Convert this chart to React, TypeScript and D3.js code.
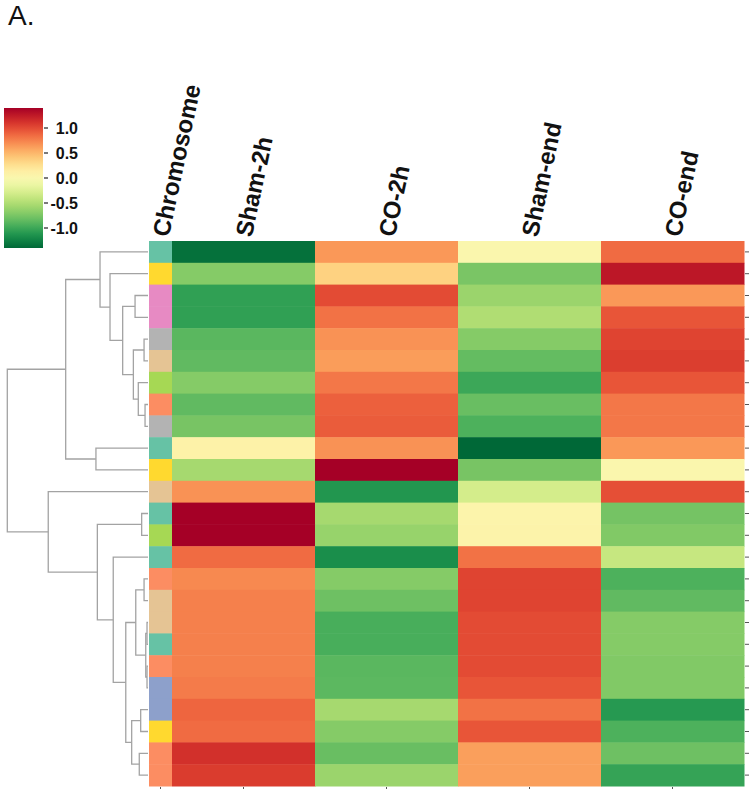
import React from "react";
import * as d3 from "d3";

// columns of the heatmap (after the chromosome strip)
const columns = ["Sham-2h", "CO-2h", "Sham-end", "CO-end"];

// row order as drawn (top to bottom), chromosome group of each row
const chromosome = [
  "1", "6", "4", "4", "8", "7", "5", "2", "8", "1", "6", "7", "1",
  "5", "1", "2", "7", "7", "1", "2", "3", "3", "6", "2", "2",
];
const chromosomeGroups = ["1", "2", "3", "4", "5", "6", "7", "8"];

// z-scored expression, one value per row
const shamTwoH = [
  -1.35, -0.7, -1.05, -1.05, -0.88, -0.85, -0.7, -0.85, -0.76, 0.1, -0.55, 0.68, 1.4,
  1.4, 0.85, 0.72, 0.76, 0.76, 0.76, 0.76, 0.78, 0.88, 0.85, 1.13, 1.07,
];
const coTwoH = [
  0.65, 0.35, 1.0, 0.82, 0.68, 0.63, 0.8, 0.9, 0.92, 0.68, 1.4, -1.12, -0.55,
  -0.62, -1.17, -0.7, -0.8, -0.95, -0.95, -0.88, -0.87, -0.55, -0.7, -0.82, -0.6,
];
const shamEnd = [
  0.03, -0.75, -0.6, -0.5, -0.7, -0.84, -1.0, -0.82, -0.93, -1.4, -0.76, -0.3, 0.07,
  0.08, 0.82, 1.03, 1.03, 1.0, 1.0, 1.0, 0.95, 0.82, 0.95, 0.62, 0.62,
];
const coEnd = [
  0.85, 1.27, 0.65, 0.95, 1.03, 1.06, 0.95, 0.8, 0.8, 0.65, 0.03, 0.98, -0.77,
  -0.72, -0.38, -0.93, -0.85, -0.7, -0.7, -0.72, -0.72, -1.1, -0.93, -0.8, -1.03,
];

// hierarchical clustering of the rows: [childA, childB, distance]
// leaves are 0..24, merged clusters get ids 25, 26, ...
const linkage = [
  [17, 18, 0.007], [19, 20, 0.007], [25, 26, 0.016], [7, 8, 0.021],
  [4, 5, 0.028], [15, 16, 0.028], [12, 13, 0.045], [21, 22, 0.052],
  [23, 24, 0.062], [6, 28, 0.069], [30, 27, 0.087], [2, 3, 0.092],
  [29, 34, 0.104], [32, 33, 0.116], [35, 38, 0.158], [36, 37, 0.18],
  [14, 39, 0.247], [1, 40, 0.27], [0, 42, 0.341], [31, 41, 0.36],
  [9, 10, 0.37], [43, 45, 0.585], [11, 44, 0.709], [46, 47, 1.0],
];

const colorTicks = [1.0, 0.5, 0.0, -0.5, -1.0];

const W = 750;
const H = 789;
const top = 241;
const bottom = 786;
const stripLeft = 149;
const stripRight = 172;
const heatRight = 744;

export default function App() {
  const series = [shamTwoH, coTwoH, shamEnd, coEnd];
  const rowIdx = chromosome.map((_, i) => i);

  const y = d3.scaleBand<number>().domain(rowIdx).range([top, bottom]);
  const x = d3.scaleBand<string>().domain(columns).range([stripRight, heatRight]);
  const value = d3.scaleLinear().domain([-1.4, 1.4]).range([1, 0]).clamp(true);
  const color = (v: number) => d3.interpolateRdYlGn(value(v));
  const chromColor = d3.scaleOrdinal<string, string>().domain(chromosomeGroups).range(d3.schemeSet2);

  // dendrogram
  const dx = d3.scaleLinear().domain([0, 1]).range([148, 7.3]);
  const nodeY: number[] = rowIdx.map((i) => (y(i) as number) + y.bandwidth() / 2);
  const nodeH: number[] = rowIdx.map(() => 0);
  const links: string[] = [];
  linkage.forEach(([a, b, h]) => {
    const ya = nodeY[a];
    const yb = nodeY[b];
    const p = d3.path();
    p.moveTo(dx(nodeH[a]), ya);
    p.lineTo(dx(h), ya);
    p.lineTo(dx(h), yb);
    p.lineTo(dx(nodeH[b]), yb);
    links.push(p.toString());
    nodeY.push((ya + yb) / 2);
    nodeH.push(h);
  });

  // colorbar
  const cbTop = 108;
  const cbBottom = 248;
  const cy = d3.scaleLinear().domain([-1.4, 1.4]).range([cbBottom, cbTop]);
  const stops = d3.range(0, 1.0001, 0.05);

  const labelCenters = [
    { name: "Chromosome", cx: (stripLeft + stripRight) / 2 },
    ...columns.map((c) => ({ name: c, cx: (x(c) as number) + x.bandwidth() / 2 })),
  ];

  return (
    <svg
      width={W}
      height={H}
      style={{ position: "absolute", left: 0, top: 0, background: "#fff" }}
      fontFamily="'Liberation Sans', Arial, sans-serif"
    >
      <defs>
        <linearGradient id="cbar" x1="0" y1="1" x2="0" y2="0">
          {stops.map((t) => (
            <stop key={t} offset={`${t * 100}%`} stopColor={d3.interpolateRdYlGn(1 - t)} />
          ))}
        </linearGradient>
      </defs>

      <text x={8} y={25} fontSize={28} fill="#111">A.</text>

      {/* colorbar */}
      <rect x={4} y={cbTop} width={39} height={cbBottom - cbTop} fill="url(#cbar)" />
      {colorTicks.map((t) => (
        <g key={t}>
          <line x1={44} x2={48} y1={cy(t)} y2={cy(t)} stroke="#222" strokeWidth={1.2} />
          <text x={78} y={cy(t)} dy="0.35em" textAnchor="end" fontSize={16} fontWeight="bold" fill="#111">
            {t.toFixed(1)}
          </text>
        </g>
      ))}

      {/* dendrogram */}
      {links.map((d, i) => (
        <path key={i} d={d} fill="none" stroke="#a3a3a3" strokeWidth={1.3} />
      ))}

      {/* chromosome strip */}
      {chromosome.map((c, i) => (
        <rect
          key={i}
          x={stripLeft}
          y={y(i)}
          width={stripRight - stripLeft}
          height={y.bandwidth() + 0.5}
          fill={chromColor(c)}
        />
      ))}

      {/* heatmap */}
      {series.map((vals, ci) =>
        vals.map((v, ri) => (
          <rect
            key={`${ci}-${ri}`}
            x={x(columns[ci])}
            y={y(ri)}
            width={x.bandwidth() + 0.5}
            height={y.bandwidth() + 0.5}
            fill={color(v)}
          />
        ))
      )}

      {/* right row ticks */}
      {rowIdx.map((i) => (
        <line
          key={i}
          x1={heatRight + 1}
          x2={heatRight + 5}
          y1={(y(i) as number) + y.bandwidth() / 2}
          y2={(y(i) as number) + y.bandwidth() / 2}
          stroke="#555"
          strokeWidth={1}
        />
      ))}

      {/* bottom column ticks */}
      {labelCenters.map((l) => (
        <line key={l.name} x1={l.cx} x2={l.cx} y1={bottom + 1} y2={bottom + 5} stroke="#555" strokeWidth={1} />
      ))}

      {/* column labels */}
      {labelCenters.map((l) => (
        <text
          key={l.name}
          transform={`translate(${l.cx},${top - 5}) rotate(-78)`}
          dy="0.35em"
          fontSize={24}
          fontWeight="bold"
          fill="#111"
        >
          {l.name}
        </text>
      ))}
    </svg>
  );
}
